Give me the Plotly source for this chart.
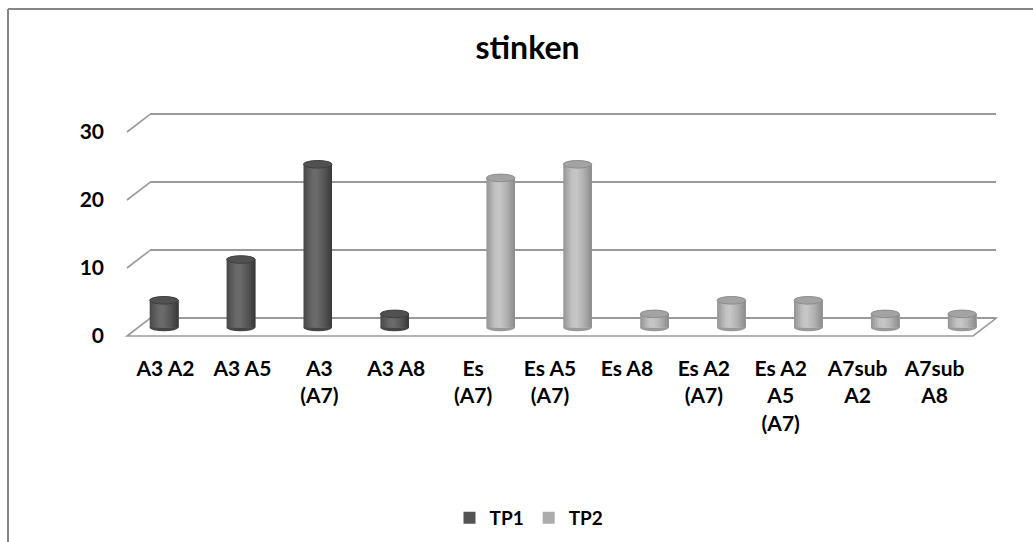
import plotly.graph_objects as go

# ---------------- data ----------------
categories = ["A3 A2", "A3 A5", "A3 (A7)", "A3 A8", "Es (A7)", "Es A5 (A7)",
              "Es A8", "Es A2 (A7)", "Es A2 A5 (A7)", "A7sub A2", "A7sub A8"]
tick_labels = ["A3 A2", "A3 A5", "A3<br>(A7)", "A3 A8", "Es<br>(A7)", "Es A5<br>(A7)",
               "Es A8", "Es A2<br>(A7)", "Es A2<br>A5<br>(A7)", "A7sub<br>A2", "A7sub<br>A8"]
tp1 = [4, 10, 24, 2, None, None, None, None, None, None, None]
tp2 = [None, None, None, None, 22, 24, 2, 4, 4, 2, 2]
y_ticks = [0, 10, 20, 30]
title_text = "stinken"

# ---------------- geometry helpers ----------------
FIG_W, FIG_H = 1033, 542
def fx(px):
    return px / FIG_W
def fy(py):
    return 1 - py / FIG_H

PXU = 6.8                                   # pixels per value unit
FRONT_L, FRONT_R, FRONT_Y0 = 127, 973, 336.0
BACK_L, BACK_R, BACK_Y0 = 150, 996, 318.3
BAR_L, BAR_R, BAR_Y0 = 140, 986, 327.5
n = len(categories)
cat_px = (BAR_R - BAR_L) / n
BAR_W = 28.5 / cat_px                       # bar width in category units
SERIES_D = {"TP1": -0.189, "TP2": 0.189}    # slot offsets within a category
ELL_H = 3.8 / PXU                           # ellipse half height (value units)

FONT = "Lato"
GRID = "#9a9a9a"

def hex2rgb(h):
    h = h.lstrip("#")
    return [int(h[i:i + 2], 16) for i in (0, 2, 4)]

def profile(stops, u):
    for (u0, c0), (u1, c1) in zip(stops[:-1], stops[1:]):
        if u0 <= u <= u1:
            t = (u - u0) / (u1 - u0) if u1 > u0 else 0
            a, b = hex2rgb(c0), hex2rgb(c1)
            return "rgb(%d,%d,%d)" % tuple(round(a[i] + (b[i] - a[i]) * t) for i in range(3))
    return stops[-1][1]

shade = {
    "TP1": [(0, "#474747"), (0.3, "#686868"), (0.45, "#6c6c6c"), (0.72, "#575757"), (1, "#383838")],
    "TP2": [(0, "#939393"), (0.3, "#c2c2c2"), (0.45, "#c7c7c7"), (0.72, "#b0b0b0"), (1, "#8a8a8a")],
}
top_fill = {"TP1": "#515151", "TP2": "#a3a3a3"}
top_line = {"TP1": "#3e3e3e", "TP2": "#8c8c8c"}
bottom_fill = {"TP1": "#454545", "TP2": "#999999"}

series = [("TP1", tp1), ("TP2", tp2)]

fig = go.Figure()

# empty traces so the back-wall and front-label subplots are rendered
fig.add_trace(go.Scatter(x=[None], y=[None], xaxis="x", yaxis="y", mode="markers",
                         showlegend=False, hoverinfo="skip"))
fig.add_trace(go.Scatter(x=[None], y=[None], xaxis="x2", yaxis="y2", mode="markers",
                         showlegend=False, hoverinfo="skip"))

STRIPS = 14
for rank, (name, vals) in enumerate(series):
    d = SERIES_D[name]
    legend_strip = 10
    for k in range(STRIPS):
        u0, u1 = k / STRIPS, (k + 1) / STRIPS
        color = profile(shade[name], (u0 + u1) / 2)
        # each strip runs from its left edge to the cylinder's right edge;
        # later strips cover the rest, so no seams appear
        fig.add_trace(go.Bar(
            x=categories, y=vals, xaxis="x3", yaxis="y3",
            offset=d - BAR_W / 2 + u0 * BAR_W,
            width=(1 - u0) * BAR_W,
            marker=dict(color=color, line=dict(width=0)),
            name=name, legendgroup=name, legendrank=rank + 1,
            showlegend=(k == legend_strip),
            hoverinfo="skip" if k != legend_strip else None,
        ))

# cylinder ends (ellipses) computed from the data
shapes = []
for name, vals in series:
    d = SERIES_D[name]
    for i, v in enumerate(vals):
        if v is None:
            continue
        x0, x1 = i + d - BAR_W / 2, i + d + BAR_W / 2
        shapes.append(dict(type="circle", xref="x3", yref="y3", x0=x0, x1=x1,
                           y0=-ELL_H, y1=ELL_H, layer="below",
                           fillcolor=bottom_fill[name], line=dict(width=0)))
        shapes.append(dict(type="circle", xref="x3", yref="y3", x0=x0, x1=x1,
                           y0=v - ELL_H, y1=v + ELL_H, layer="above",
                           fillcolor=top_fill[name], line=dict(color=top_line[name], width=1)))

# floor
floor_path = "M {} {} L {} {} L {} {} L {} {} Z".format(
    fx(FRONT_L), fy(FRONT_Y0), fx(FRONT_R), fy(FRONT_Y0),
    fx(BACK_R), fy(BACK_Y0), fx(BACK_L), fy(BACK_Y0))
shapes.append(dict(type="path", xref="paper", yref="paper", path=floor_path,
                   line=dict(color=GRID, width=1.6), layer="below"))
# side-wall diagonals
for v in y_ticks[1:]:
    shapes.append(dict(type="line", xref="paper", yref="paper",
                       x0=fx(FRONT_L), y0=fy(FRONT_Y0 - v * PXU),
                       x1=fx(BACK_L), y1=fy(BACK_Y0 - v * PXU),
                       line=dict(color=GRID, width=1.6), layer="below"))
# chart border (top and left visible)
shapes.append(dict(type="line", xref="paper", yref="paper", x0=fx(8), y0=fy(9), x1=1, y1=fy(9),
                   line=dict(color="#868686", width=2)))
shapes.append(dict(type="line", xref="paper", yref="paper", x0=fx(8), y0=fy(9), x1=fx(8), y1=0,
                   line=dict(color="#868686", width=2)))

bold21 = dict(family=FONT, size=21, color="black", weight="bold")

fig.update_layout(
    template="none",
    width=FIG_W, height=FIG_H,
    margin=dict(l=0, r=0, t=0, b=0, pad=0, autoexpand=False),
    paper_bgcolor="white", plot_bgcolor="rgba(0,0,0,0)",
    barmode="overlay",
    font=dict(family=FONT, color="black"),
    title=dict(text=title_text, x=fx(527.5), xanchor="center", y=fy(48), yanchor="middle",
               font=dict(family=FONT, size=32, color="black", weight="bold")),
    showlegend=True,
    legend=dict(orientation="h", x=fx(529), xanchor="center", y=fy(518), yanchor="middle",
                font=dict(family=FONT, size=19, color="black", weight="bold"),
                bgcolor="rgba(0,0,0,0)", itemwidth=30, traceorder="normal"),
    # back wall (gridlines)
    xaxis=dict(domain=[fx(BACK_L), fx(BACK_R)], range=[-0.5, n - 0.5], anchor="y",
               automargin=False,
               showgrid=False, zeroline=False, showticklabels=False, ticks="", showline=False),
    yaxis=dict(domain=[fy(BACK_Y0 + 1 * PXU), fy(BACK_Y0 - 31 * PXU)], range=[-1, 31], anchor="x",
               automargin=False,
               tickvals=y_ticks, showgrid=True, gridcolor=GRID, gridwidth=1.6,
               zeroline=False, showticklabels=False, ticks="", showline=False),
    # front axes (labels)
    xaxis2=dict(domain=[fx(FRONT_L), fx(FRONT_R)], range=[-0.5, n - 0.5], anchor="y2",
                automargin=False,
                tickvals=list(range(n)), ticktext=tick_labels, tickfont=bold21,
                showgrid=False, zeroline=False, ticks="", showline=False, ticklabelstandoff=18),
    yaxis2=dict(domain=[fy(FRONT_Y0), fy(FRONT_Y0 - 30 * PXU)], range=[0, 30], anchor="x2",
                automargin=False,
                tickvals=y_ticks, tickfont=bold21, showgrid=False, zeroline=False,
                ticks="", showline=False, ticklabelstandoff=22),
    # bars (mid depth)
    xaxis3=dict(domain=[fx(BAR_L), fx(BAR_R)], type="category", categoryarray=categories,
                categoryorder="array", range=[-0.5, n - 0.5], anchor="y3", visible=False,
                automargin=False),
    yaxis3=dict(domain=[fy(BAR_Y0 + 1.5 * PXU), fy(BAR_Y0 - 31 * PXU)], range=[-1.5, 31],
                anchor="x3", visible=False, automargin=False),
    shapes=shapes,
)

fig.write_html("out.html")
